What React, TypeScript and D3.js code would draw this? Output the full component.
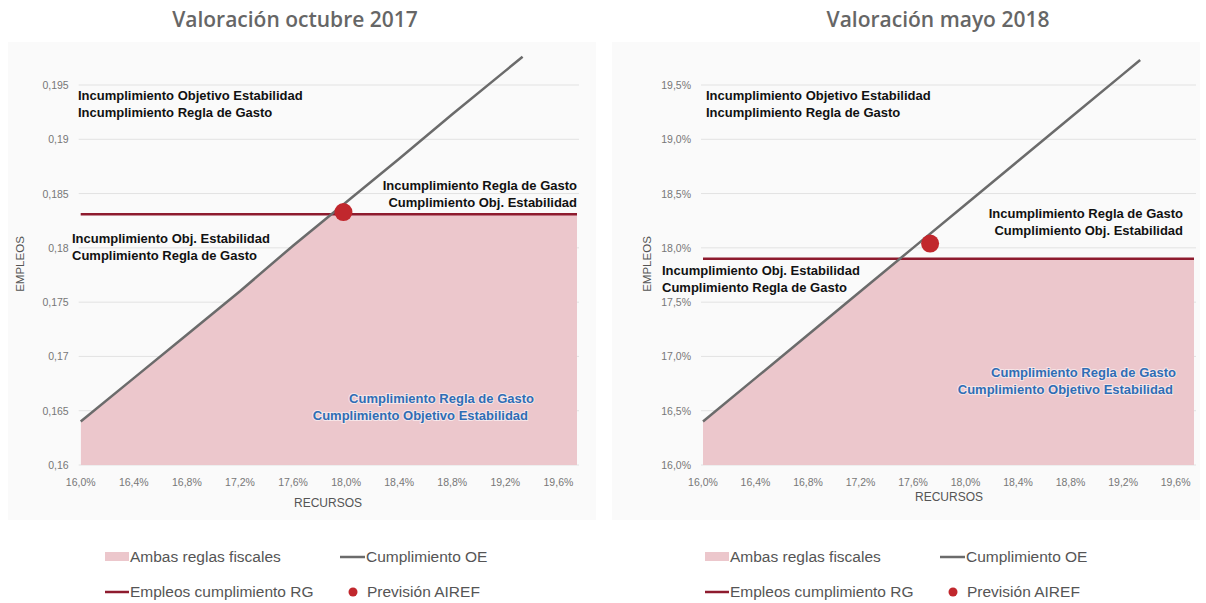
import React from 'react';
import * as d3 from 'd3';

// RECURSOS (% of GDP) axis ticks, shared by both panels
const recursosTicks = [16.0, 16.4, 16.8, 17.2, 17.6, 18.0, 18.4, 18.8, 19.2, 19.6];

// Cumplimiento OE line
const recursosOE = [16.0, 16.4, 16.8, 17.2, 17.6, 18.0, 18.4, 18.8, 19.2, 19.33];
const empleosOEOct17 = [0.164, 0.168, 0.172, 0.176, 0.1802, 0.1842, 0.1882, 0.1923, 0.1963, 0.1976];
const empleosOEMay18 = [16.4, 16.8, 17.2, 17.6, 18.0, 18.4, 18.8, 19.2, 19.6, 19.73];

// Empleos cumplimiento RG (horizontal line)
const empleosRGOct17 = 0.1831;
const empleosRGMay18 = 17.9;

// Previsión AIREF
const airefOct17 = { recursos: 17.98, empleos: 0.1833 };
const airefMay18 = { recursos: 17.73, empleos: 18.04 };

const empleosTicksOct17 = [0.16, 0.165, 0.17, 0.175, 0.18, 0.185, 0.19, 0.195];
const empleosTicksMay18 = [16.0, 16.5, 17.0, 17.5, 18.0, 18.5, 19.0, 19.5];

const titles = ['Valoración octubre 2017', 'Valoración mayo 2018'];
const legendLabels = ['Ambas reglas fiscales', 'Cumplimiento OE', 'Empleos cumplimiento RG', 'Previsión AIREF'];

const PINK = '#ecc7cc';
const GREY_LINE = '#6b6b6b';
const RED_LINE = '#8e1b2e';
const DOT = '#c1272d';
const BLUE = '#2f6db5';
const FONT = "'Liberation Sans', Arial, sans-serif";

const comma = (s: string) => s.replace('.', ',');
const fmtDec = (v: number) => comma(String(+v.toFixed(3)));
const fmtPct1 = (v: number) => comma(v.toFixed(1)) + '%';

type Note = { lines: string[]; x: number; y: number; anchor: string; color?: string; dx?: number[] };

type PanelProps = {
  x0: number;
  x1: number;
  title: string;
  titleX: number;
  yTicks: number[];
  yFmt: (v: number) => string;
  oe: number[];
  rg: number;
  aireF: { recursos: number; empleos: number };
  notes: Note[];
  yLabelX: number;
  xLabelX: number;
  xLabelY: number;
  legendX: number;
  id: string;
};

const Panel = (p: PanelProps) => {
  const x = d3.scaleLinear().domain([16, 19.74]).range([p.x0, p.x1]);
  const yMin = p.yTicks[0];
  const y = d3.scaleLinear().domain([yMin, p.yTicks[p.yTicks.length - 1]]).range([465, 85]);

  const pts = recursosOE.map((r, i) => [r, p.oe[i]] as [number, number]);
  const line = d3.line<[number, number]>().x(d => x(d[0])).y(d => y(d[1]));
  // fill under the OE line, clipped below the RG line
  const areaPts = [...pts, [19.74, p.oe[p.oe.length - 1]] as [number, number]];
  const area = d3.area<[number, number]>().x(d => x(d[0])).y0(y(yMin)).y1(d => y(d[1]));

  return (
    <g>
      <defs>
        <clipPath id={`clip-${p.id}`}>
          <rect x={p.x0} y={y(p.rg)} width={p.x1 - p.x0} height={y(yMin) - y(p.rg)} />
        </clipPath>
      </defs>
      <text x={p.titleX} y={27} textAnchor="middle" fontFamily="'Open Sans', sans-serif" fontWeight={600}
        fontSize={21} fill="#666">{p.title}</text>

      {p.yTicks.map(t => (
        <g key={t}>
          <line x1={p.x0 - 2} x2={p.x1 + 2} y1={y(t)} y2={y(t)} stroke="#e2e2e2" strokeWidth={1} />
          <text x={p.x0 - 12} y={y(t) + 4} textAnchor="end" fontFamily={FONT} fontSize={10.5} fill="#777">
            {p.yFmt(t)}
          </text>
        </g>
      ))}
      {recursosTicks.map(t => (
        <text key={t} x={x(t)} y={486} textAnchor="middle" fontFamily={FONT} fontSize={10.5} fill="#777">
          {fmtPct1(t)}
        </text>
      ))}

      <path d={area(areaPts) || ''} fill={PINK} clipPath={`url(#clip-${p.id})`} />
      <line x1={x(16)} x2={p.x1} y1={y(p.rg)} y2={y(p.rg)} stroke={RED_LINE} strokeWidth={2.5} />
      <path d={line(pts) || ''} fill="none" stroke={GREY_LINE} strokeWidth={2.5} />
      <circle cx={x(p.aireF.recursos)} cy={y(p.aireF.empleos)} r={9} fill={DOT} />

      {p.notes.map((n, i) => (
        <text key={i} x={n.x} y={n.y} textAnchor={n.anchor} fontFamily={FONT} fontWeight={700} fontSize={13}
          fill={n.color || '#111'} stroke={n.color ? 'rgba(255,255,255,0.55)' : 'none'} strokeWidth={2}
          style={{ paintOrder: 'stroke' }}>
          {n.lines.map((l, j) => (
            <tspan key={j} x={n.x + (n.dx ? n.dx[j] : 0)} dy={j === 0 ? 0 : 17}>{l}</tspan>
          ))}
        </text>
      ))}

      <text transform={`translate(${p.yLabelX},264) rotate(-90)`} textAnchor="middle" fontFamily={FONT}
        fontSize={11.5} fill="#555">EMPLEOS</text>
      <text x={p.xLabelX} y={p.xLabelY} textAnchor="middle" fontFamily={FONT} fontSize={12} fill="#555">RECURSOS</text>

      {/* legend */}
      <g fontFamily={FONT} fontSize={15.5} fill="#555">
        <rect x={p.legendX} y={552} width={24} height={9} fill={PINK} />
        <text x={p.legendX + 25} y={562}>{legendLabels[0]}</text>
        <line x1={p.legendX + 235} x2={p.legendX + 260} y1={557} y2={557} stroke={GREY_LINE} strokeWidth={2.5} />
        <text x={p.legendX + 261} y={562}>{legendLabels[1]}</text>
        <line x1={p.legendX} x2={p.legendX + 24} y1={592} y2={592} stroke={RED_LINE} strokeWidth={2.5} />
        <text x={p.legendX + 25} y={597}>{legendLabels[2]}</text>
        <circle cx={p.legendX + 248} cy={592} r={4.5} fill={DOT} />
        <text x={p.legendX + 262} y={597}>{legendLabels[3]}</text>
      </g>
    </g>
  );
};

export default function App() {
  return (
    <svg width={1206} height={603} style={{ position: 'absolute', left: 0, top: 0, background: '#fff' }}>
      <rect x={8} y={42} width={588} height={478} fill="#fafafa" />
      <rect x={612} y={42} width={588} height={478} fill="#fafafa" />
      <Panel
        id="oct17"
        x0={80.7}
        x1={577}
        title={titles[0]}
        titleX={295}
        yTicks={empleosTicksOct17}
        yFmt={fmtDec}
        oe={empleosOEOct17}
        rg={empleosRGOct17}
        aireF={airefOct17}
        yLabelX={24}
        xLabelX={328}
        xLabelY={507}
        legendX={105}
        notes={[
          { lines: ['Incumplimiento Objetivo Estabilidad', 'Incumplimiento Regla de Gasto'], x: 78, y: 99.5, anchor: 'start' },
          { lines: ['Incumplimiento Obj. Estabilidad', 'Cumplimiento Regla de Gasto'], x: 72, y: 242.5, anchor: 'start' },
          { lines: ['Incumplimiento Regla de Gasto', 'Cumplimiento Obj. Estabilidad'], x: 577, y: 189.5, anchor: 'end' },
          { lines: ['Cumplimiento Regla de Gasto', 'Cumplimiento Objetivo Estabilidad'], x: 534, y: 402.5, anchor: 'end', color: BLUE, dx: [0, -6] },
        ]}
      />
      <Panel
        id="may18"
        x0={703}
        x1={1194}
        title={titles[1]}
        titleX={938}
        yTicks={empleosTicksMay18}
        yFmt={fmtPct1}
        oe={empleosOEMay18}
        rg={empleosRGMay18}
        aireF={airefMay18}
        yLabelX={651}
        xLabelX={949}
        xLabelY={501}
        legendX={705}
        notes={[
          { lines: ['Incumplimiento Objetivo Estabilidad', 'Incumplimiento Regla de Gasto'], x: 706, y: 99.5, anchor: 'start' },
          { lines: ['Incumplimiento Obj. Estabilidad', 'Cumplimiento Regla de Gasto'], x: 662, y: 274.5, anchor: 'start' },
          { lines: ['Incumplimiento Regla de Gasto', 'Cumplimiento Obj. Estabilidad'], x: 1183, y: 217.5, anchor: 'end' },
          { lines: ['Cumplimiento Regla de Gasto', 'Cumplimiento Objetivo Estabilidad'], x: 1176, y: 376.5, anchor: 'end', color: BLUE, dx: [0, -3] },
        ]}
      />
    </svg>
  );
}
